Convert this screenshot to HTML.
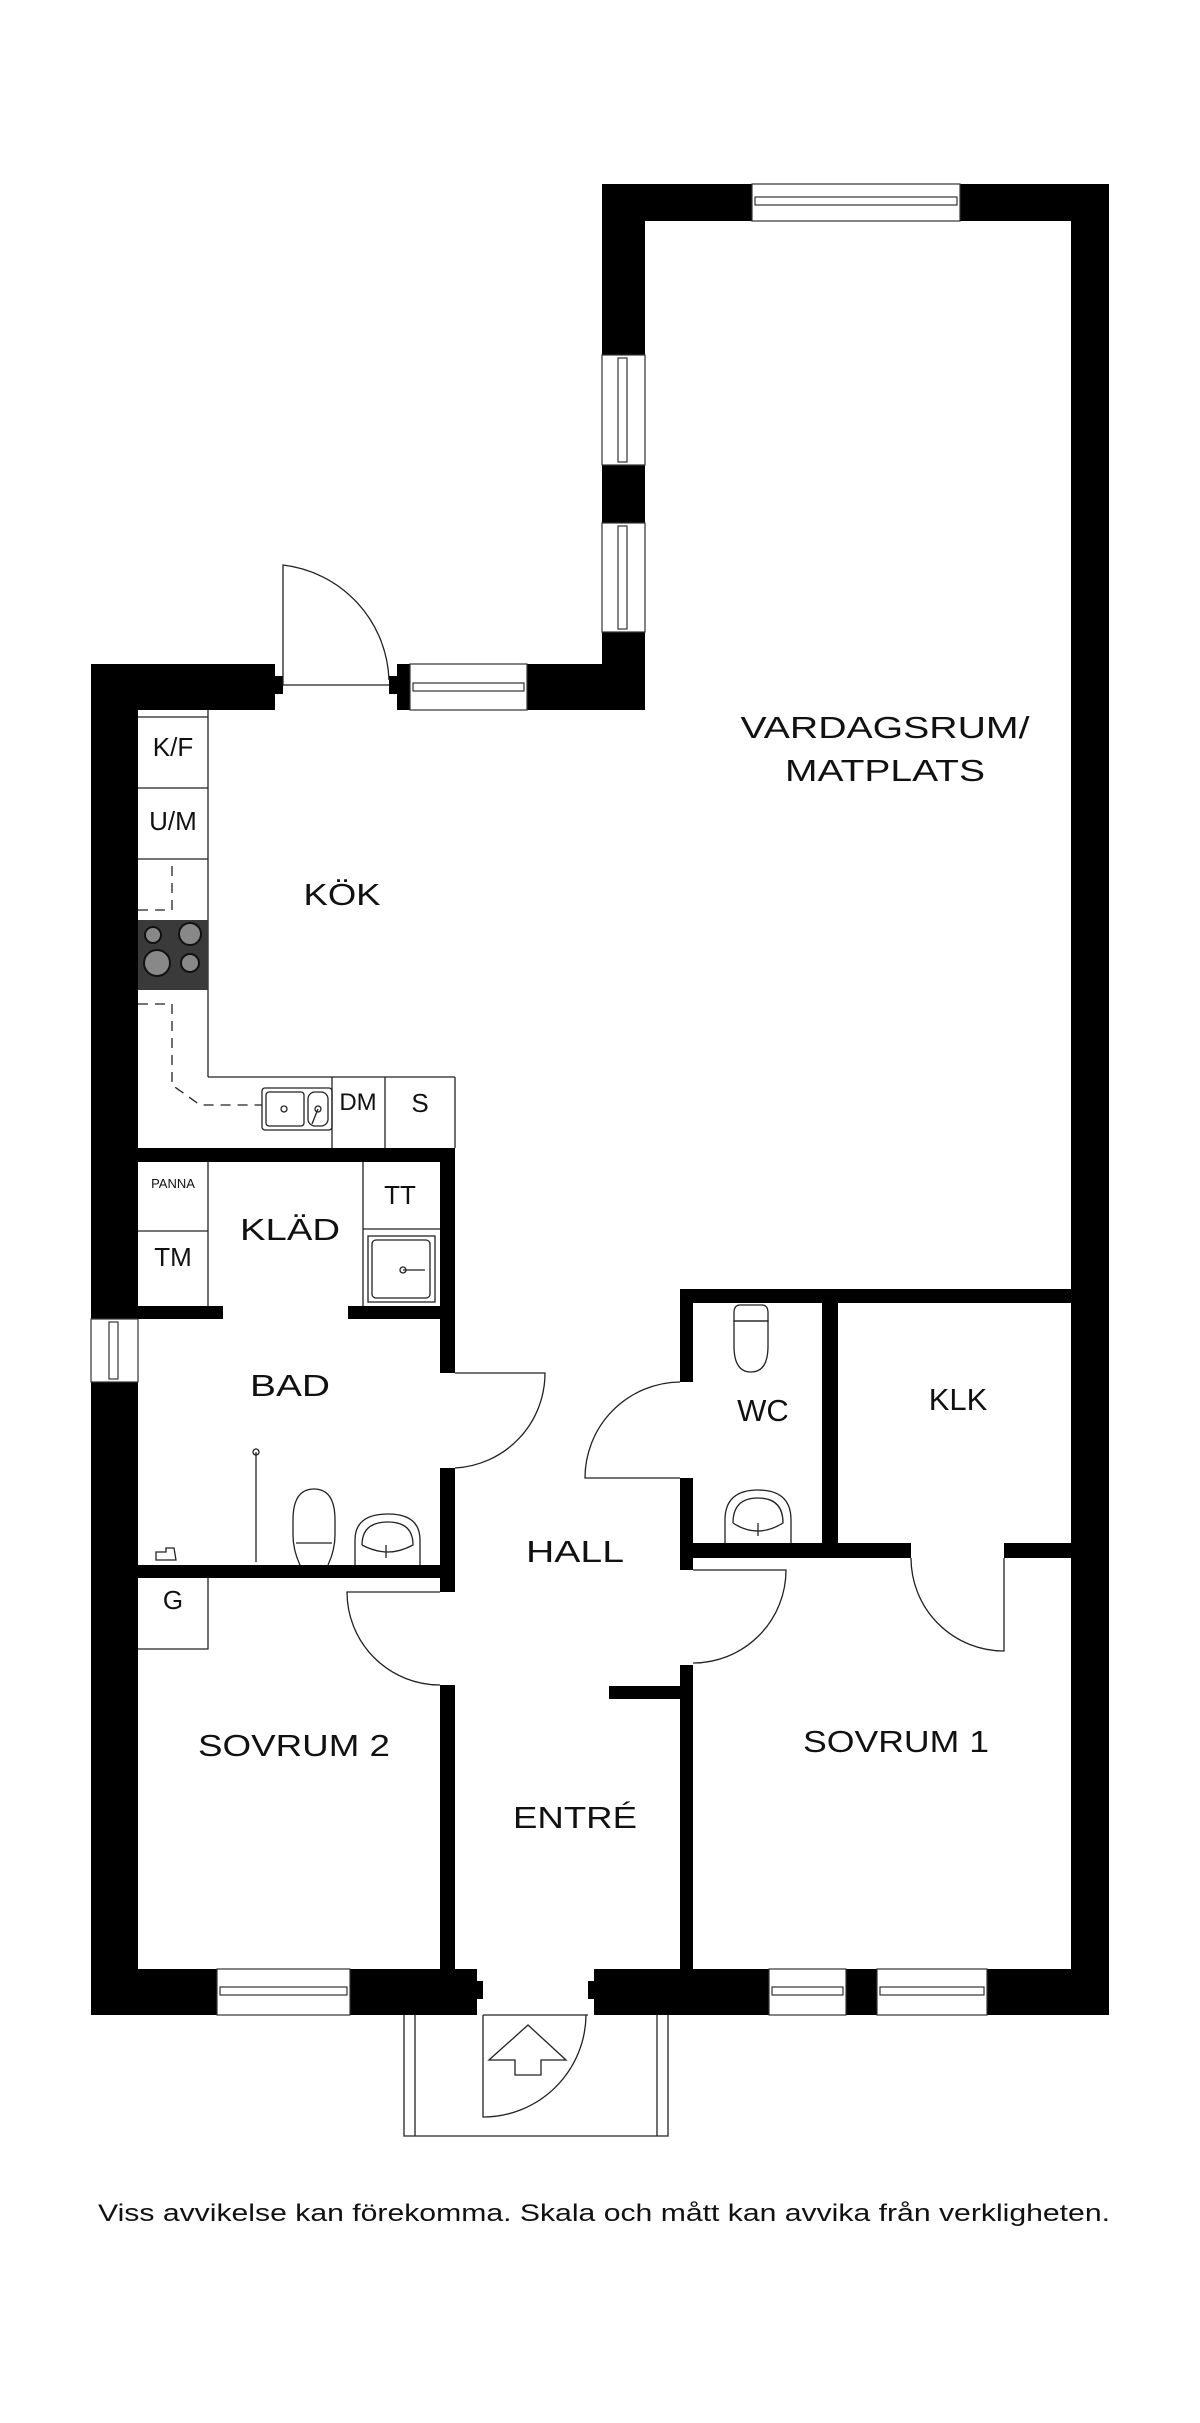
<!DOCTYPE html>
<html><head><meta charset="utf-8"><style>
html,body{margin:0;padding:0;background:#fff;}
svg{display:block;}
text{font-family:"Liberation Sans",sans-serif;fill:#111;}
</style></head><body>
<svg width="1200" height="2423" viewBox="0 0 1200 2423" xmlns="http://www.w3.org/2000/svg">
<rect width="1200" height="2423" fill="#fff"/>
<g fill="#000">
  <!-- living top & walls -->
  <rect x="602" y="184" width="507" height="37"/>
  <rect x="602" y="184" width="43" height="526"/>
  <rect x="1071" y="184" width="38" height="1830"/>
  <!-- kitchen top wall -->
  <rect x="91" y="664" width="184" height="46"/>
  <rect x="275" y="676" width="8" height="18"/>
  <rect x="397" y="664" width="248" height="46"/>
  <rect x="389" y="676" width="8" height="18"/>
  <!-- left outer wall -->
  <rect x="91" y="664" width="47" height="1350"/>
  <!-- kitchen/bath wall -->
  <rect x="138" y="1148" width="317" height="14"/>
  <!-- bath right wall -->
  <rect x="440" y="1148" width="15" height="225"/>
  <rect x="440" y="1468" width="15" height="124"/>
  <rect x="440" y="1685" width="15" height="290"/>
  <!-- klad/bath wall -->
  <rect x="138" y="1306" width="85" height="13"/>
  <rect x="348" y="1306" width="100" height="13"/>
  <!-- bath bottom wall -->
  <rect x="138" y="1565" width="315" height="13"/>
  <!-- WC block -->
  <rect x="680" y="1289" width="400" height="14"/>
  <rect x="680" y="1289" width="13" height="93"/>
  <rect x="680" y="1478" width="13" height="92"/>
  <rect x="822" y="1303" width="16" height="242"/>
  <rect x="680" y="1543" width="231" height="15"/>
  <rect x="1004" y="1543" width="70" height="15"/>
  <rect x="680" y="1665" width="13" height="310"/>
  <rect x="609" y="1686" width="71" height="13"/>
  <!-- bottom wall -->
  <rect x="91" y="1969" width="386" height="46"/>
  <rect x="477" y="1981" width="6" height="18"/>
  <rect x="594" y="1969" width="515" height="46"/>
  <rect x="588" y="1981" width="6" height="18"/>
</g>
<!-- windows -->
<g fill="#fff" stroke="#333" stroke-width="1.2">
  <rect x="752" y="184" width="208" height="37"/>
  <rect x="755" y="197" width="202" height="8"/>
  <rect x="602" y="355" width="43" height="110"/>
  <rect x="618" y="358" width="9" height="104"/>
  <rect x="602" y="523" width="43" height="109"/>
  <rect x="618" y="526" width="9" height="103"/>
  <rect x="410" y="664" width="117" height="46"/>
  <rect x="413" y="683" width="111" height="8"/>
  <rect x="91" y="1319" width="47" height="63"/>
  <rect x="109" y="1322" width="9" height="57"/>
  <rect x="217" y="1969" width="133" height="46"/>
  <rect x="220" y="1987" width="127" height="8"/>
  <rect x="769" y="1969" width="77" height="46"/>
  <rect x="772" y="1987" width="71" height="8"/>
  <rect x="877" y="1969" width="110" height="46"/>
  <rect x="880" y="1987" width="104" height="8"/>
</g>
<!-- fixtures, doors -->
<g fill="none" stroke="#222" stroke-width="1.3">
  <!-- kitchen door -->
  <line x1="283" y1="685" x2="389" y2="685"/>
  <path d="M283 685 V565 A120 120 0 0 1 389 680"/>
  <!-- kitchen counters -->
  <line x1="138" y1="717" x2="208" y2="717"/>
  <line x1="208" y1="710" x2="208" y2="1077"/>
  <line x1="138" y1="788" x2="208" y2="788"/>
  <line x1="138" y1="859" x2="208" y2="859"/>
  <line x1="208" y1="1077" x2="455" y2="1077"/>
  <line x1="455" y1="1077" x2="455" y2="1148"/>
  <line x1="332" y1="1077" x2="332" y2="1148"/>
  <line x1="385" y1="1077" x2="385" y2="1148"/>
  <path d="M138 910 H172 V859" stroke-dasharray="10 7"/>
  <path d="M138 1004 H172 V1085 L200 1105 H262" stroke-dasharray="10 7"/>
  <rect x="262" y="1088" width="70" height="42" rx="3"/>
  <rect x="266" y="1092" width="38" height="34" rx="3"/>
  <rect x="308" y="1092" width="20" height="34" rx="7"/>
  <circle cx="284" cy="1109" r="3"/>
  <circle cx="318" cy="1109" r="3"/>
  <line x1="318" y1="1109" x2="312" y2="1124"/>
  <!-- klad -->
  <line x1="208" y1="1162" x2="208" y2="1306"/>
  <line x1="138" y1="1231" x2="208" y2="1231"/>
  <line x1="363" y1="1162" x2="363" y2="1306"/>
  <line x1="363" y1="1229" x2="440" y2="1229"/>
  <rect x="368" y="1236" width="67" height="66"/>
  <rect x="372" y="1240" width="58" height="58" rx="4"/>
  <circle cx="403" cy="1270" r="3"/>
  <line x1="403" y1="1270" x2="425" y2="1270"/>
  <!-- bath door -->
  <path d="M455 1373 H545 A95 95 0 0 1 455 1468"/>
  <!-- bath fixtures -->
  <line x1="256" y1="1452" x2="256" y2="1562"/>
  <circle cx="256" cy="1452" r="3"/>
  <path d="M300 1565 Q293 1550 293 1535 V1520 Q293 1489 314 1489 Q335 1489 335 1520 V1535 Q335 1550 328 1565"/>
  <line x1="296" y1="1543" x2="332" y2="1543"/>
  <path d="M355 1565 V1540 Q355 1514 388 1514 Q420 1514 420 1540 V1565"/>
  <path d="M362 1545 Q362 1522 388 1522 Q413 1522 413 1545 Q400 1552 388 1552 Q375 1552 362 1545"/>
  <line x1="386" y1="1545" x2="386" y2="1558"/>
  <path d="M176 1560 h-20 v-8 h10 v-4 h8 z"/>
  <!-- G -->
  <path d="M138 1649 H208 V1578"/>
  <!-- sovrum2 door -->
  <path d="M440 1592 H347 A93 93 0 0 0 440 1685"/>
  <!-- WC door -->
  <path d="M680 1382 A96 96 0 0 0 585 1478 H680"/>
  <!-- WC fixtures -->
  <path d="M740 1305 h22 q6 0 6 8 v8 h-34 v-8 q0 -8 6 -8z"/>
  <path d="M734 1321 h34 v25 q0 26 -17 26 q-17 0 -17 -26z"/>
  <path d="M725 1543 V1520 Q725 1490 758 1490 Q791 1490 791 1520 V1543"/>
  <path d="M733 1523 Q733 1498 758 1498 Q783 1498 783 1523 Q770 1531 758 1531 Q745 1531 733 1523"/>
  <line x1="758" y1="1523" x2="758" y2="1536"/>
  <!-- hall to sovrum1 door -->
  <path d="M693 1570 H786 A93 93 0 0 1 693 1663"/>
  <!-- KLK door -->
  <path d="M911 1558 A93 93 0 0 0 1004 1651 V1558"/>
  <!-- entrance -->
  <path d="M483 2015 H588"/>
  <path d="M483 2015 V2117 A103 103 0 0 0 586 2015"/>
  <path d="M404 2015 V2136 H668 V2015"/>
  <path d="M415 2015 V2136 M657 2015 V2136"/>
  <path d="M528 2025 L566 2060 H541 V2075 H515 V2060 H489 Z"/>
</g>
<!-- stove -->
<rect x="138" y="920" width="70" height="70" fill="#3a3a3a"/>
<g fill="#888" stroke="#111" stroke-width="2">
  <circle cx="153" cy="935" r="8"/>
  <circle cx="190" cy="934" r="11"/>
  <circle cx="157" cy="963" r="13"/>
  <circle cx="190" cy="963" r="9"/>
</g>
<!-- labels -->
<g font-size="31" text-anchor="middle">
  <text x="885" y="738" textLength="289" lengthAdjust="spacingAndGlyphs">VARDAGSRUM/</text>
  <text x="885" y="781" textLength="200" lengthAdjust="spacingAndGlyphs">MATPLATS</text>
  <text x="342" y="905" textLength="77" lengthAdjust="spacingAndGlyphs">KÖK</text>
  <text x="290" y="1240" textLength="100" lengthAdjust="spacingAndGlyphs">KLÄD</text>
  <text x="290" y="1396" textLength="80" lengthAdjust="spacingAndGlyphs">BAD</text>
  <text x="575" y="1562" textLength="98" lengthAdjust="spacingAndGlyphs">HALL</text>
  <text x="763" y="1421">WC</text>
  <text x="958" y="1410">KLK</text>
  <text x="294" y="1756" textLength="192" lengthAdjust="spacingAndGlyphs">SOVRUM 2</text>
  <text x="575" y="1828" textLength="124" lengthAdjust="spacingAndGlyphs">ENTRÉ</text>
  <text x="896" y="1752" textLength="186" lengthAdjust="spacingAndGlyphs">SOVRUM 1</text>
</g>
<g font-size="26" text-anchor="middle">
  <text x="173" y="756">K/F</text>
  <text x="173" y="830">U/M</text>
  <text x="358" y="1110" font-size="24">DM</text>
  <text x="420" y="1112">S</text>
  <text x="400" y="1204">TT</text>
  <text x="173" y="1266">TM</text>
  <text x="173" y="1609">G</text>
  <text x="173" y="1188" font-size="13">PANNA</text>
</g>
<text x="604" y="2221" font-size="24" text-anchor="middle" textLength="1012" lengthAdjust="spacingAndGlyphs">Viss avvikelse kan förekomma. Skala och mått kan avvika från verkligheten.</text>
</svg>
</body></html>
